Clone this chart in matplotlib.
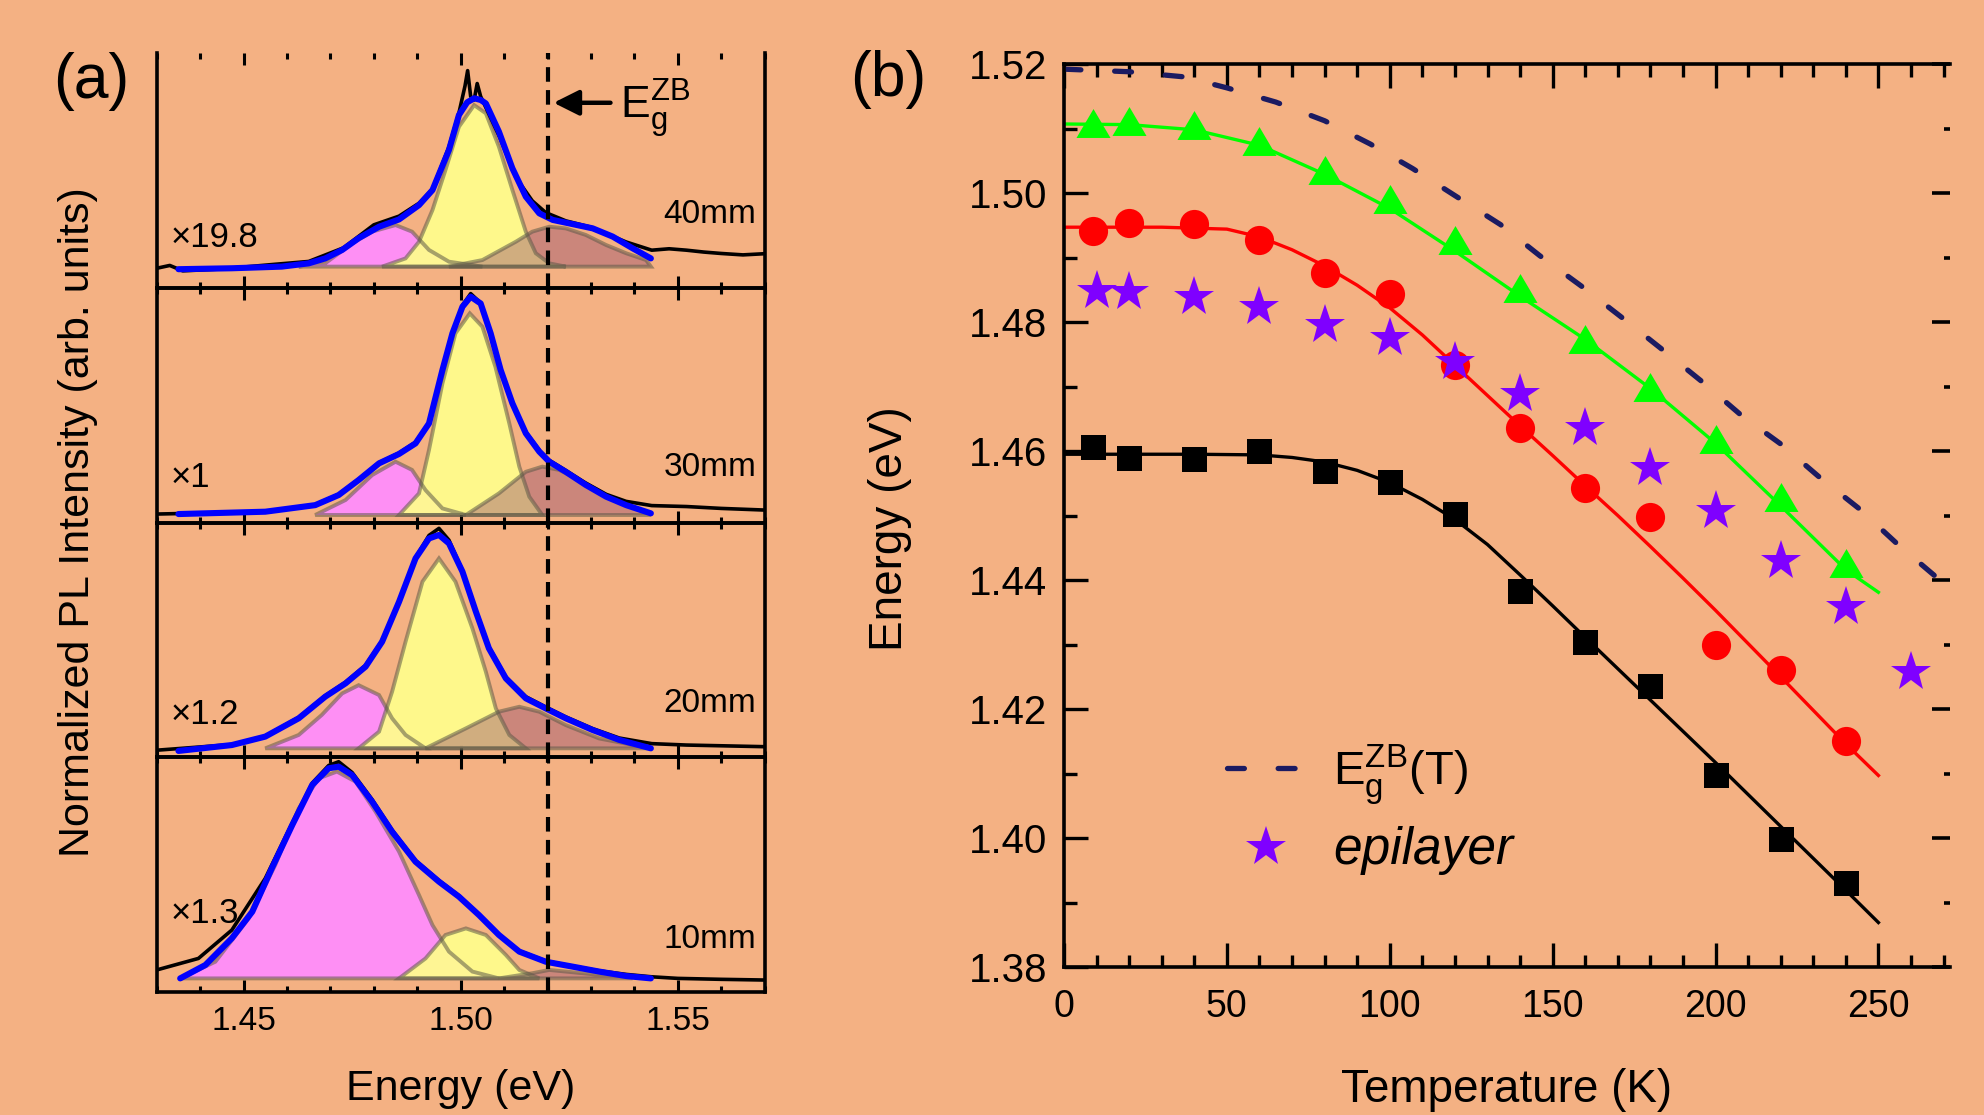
import matplotlib
matplotlib.use("Agg")
import matplotlib.pyplot as plt
from matplotlib.ticker import MultipleLocator, FormatStrFormatter
from matplotlib.lines import Line2D

plt.rcParams['font.family'] = ['Liberation Sans', 'DejaVu Sans']
plt.rcParams['mathtext.fontset'] = 'custom'
plt.rcParams['mathtext.rm'] = 'Liberation Sans'
plt.rcParams['mathtext.it'] = 'Liberation Sans:italic'

BG = '#F4B183'

# ---------------- panel (a): PL spectra, (energy eV, normalized intensity) ----------------
eg_zb = 1.52

# 40 mm
s40_raw = [(1.4300, 0.083), (1.4330, 0.095), (1.4360, 0.072), (1.4450, 0.080), (1.4573, 0.100),
           (1.4650, 0.112), (1.4730, 0.170), (1.4800, 0.268), (1.4858, 0.305), (1.4904, 0.360),
           (1.4935, 0.420), (1.4973, 0.600), (1.4996, 0.745), (1.5010, 0.860), (1.5016, 0.925),
           (1.5023, 0.815), (1.5031, 0.800), (1.5038, 0.870), (1.5046, 0.815), (1.5065, 0.740),
           (1.5090, 0.640), (1.5127, 0.470), (1.5165, 0.370), (1.5196, 0.320), (1.5242, 0.285),
           (1.5300, 0.258), (1.5381, 0.195), (1.5440, 0.160), (1.5480, 0.166), (1.5520, 0.160),
           (1.5560, 0.152), (1.5600, 0.146), (1.5650, 0.140), (1.5700, 0.145)]
s40_fit = [(1.4350, 0.079), (1.4473, 0.083), (1.4588, 0.090), (1.4650, 0.104), (1.4688, 0.125),
           (1.4727, 0.161), (1.4765, 0.211), (1.4812, 0.260), (1.4858, 0.291), (1.4904, 0.352),
           (1.4935, 0.416), (1.4973, 0.587), (1.4996, 0.736), (1.5015, 0.790), (1.5031, 0.807),
           (1.5046, 0.800), (1.5058, 0.785), (1.5088, 0.665), (1.5119, 0.509), (1.5150, 0.388),
           (1.5181, 0.317), (1.5212, 0.289), (1.5258, 0.271), (1.5304, 0.253), (1.5350, 0.218),
           (1.5396, 0.168), (1.5438, 0.125)]
s40_pink = [(1.4627, 0.090), (1.4688, 0.104), (1.4750, 0.189), (1.4796, 0.239), (1.4850, 0.267),
            (1.4888, 0.239), (1.4927, 0.161), (1.4973, 0.111), (1.5050, 0.090)]
s40_yellow = [(1.4819, 0.090), (1.4873, 0.125), (1.4904, 0.196), (1.4935, 0.331), (1.4965, 0.502),
              (1.4996, 0.686), (1.5031, 0.778), (1.5058, 0.743), (1.5088, 0.601), (1.5119, 0.417),
              (1.5150, 0.239), (1.5173, 0.147), (1.5204, 0.104), (1.5242, 0.090)]
s40_brown = [(1.4973, 0.090), (1.5050, 0.118), (1.5127, 0.196), (1.5165, 0.239), (1.5204, 0.260),
             (1.5242, 0.253), (1.5288, 0.225), (1.5335, 0.182), (1.5381, 0.147), (1.5427, 0.118),
             (1.5438, 0.090)]

# 30 mm
s30_raw = [(1.4300, 0.036), (1.4550, 0.046), (1.4665, 0.076), (1.4719, 0.120), (1.4765, 0.184),
           (1.4812, 0.255), (1.4858, 0.296), (1.4896, 0.342), (1.4927, 0.425), (1.4958, 0.650),
           (1.4981, 0.806), (1.5004, 0.925), (1.5023, 0.975), (1.5046, 0.935), (1.5069, 0.806),
           (1.5092, 0.650), (1.5119, 0.510), (1.5150, 0.385), (1.5181, 0.308), (1.5204, 0.265),
           (1.5242, 0.222), (1.5288, 0.168), (1.5335, 0.120), (1.5381, 0.090), (1.5440, 0.072),
           (1.5520, 0.068), (1.5600, 0.060), (1.5700, 0.053)]
s30_fit = [(1.4350, 0.036), (1.4550, 0.046), (1.4665, 0.074), (1.4719, 0.117), (1.4765, 0.181),
           (1.4812, 0.252), (1.4858, 0.292), (1.4896, 0.337), (1.4927, 0.422), (1.4958, 0.650),
           (1.4981, 0.806), (1.5004, 0.919), (1.5023, 0.962), (1.5046, 0.933), (1.5069, 0.806),
           (1.5092, 0.650), (1.5119, 0.508), (1.5150, 0.380), (1.5181, 0.302), (1.5204, 0.259),
           (1.5242, 0.216), (1.5288, 0.160), (1.5335, 0.110), (1.5381, 0.074), (1.5438, 0.039)]
s30_pink = [(1.4665, 0.032), (1.4735, 0.096), (1.4796, 0.202), (1.4850, 0.259), (1.4888, 0.224),
            (1.4919, 0.138), (1.4958, 0.060), (1.5012, 0.032)]
s30_yellow = [(1.4858, 0.032), (1.4904, 0.124), (1.4927, 0.309), (1.4958, 0.593), (1.4988, 0.806),
              (1.5021, 0.891), (1.5050, 0.834), (1.5080, 0.663), (1.5112, 0.422), (1.5135, 0.238),
              (1.5158, 0.110), (1.5188, 0.032)]
s30_brown = [(1.5012, 0.032), (1.5088, 0.124), (1.5150, 0.216), (1.5188, 0.238), (1.5227, 0.224),
             (1.5288, 0.167), (1.5350, 0.103), (1.5412, 0.053), (1.5438, 0.032)]

# 20 mm
s20_raw = [(1.4300, 0.030), (1.4473, 0.054), (1.4550, 0.090), (1.4627, 0.170), (1.4688, 0.262),
           (1.4735, 0.320), (1.4781, 0.392), (1.4819, 0.497), (1.4858, 0.665), (1.4896, 0.850),
           (1.4927, 0.945), (1.4950, 0.975), (1.4973, 0.925), (1.5004, 0.795), (1.5035, 0.625),
           (1.5065, 0.470), (1.5104, 0.342), (1.5150, 0.258), (1.5196, 0.214), (1.5242, 0.172),
           (1.5304, 0.122), (1.5365, 0.082), (1.5440, 0.058), (1.5520, 0.052), (1.5700, 0.045)]
s20_fit = [(1.4350, 0.027), (1.4473, 0.052), (1.4550, 0.088), (1.4627, 0.166), (1.4688, 0.258),
           (1.4735, 0.315), (1.4781, 0.386), (1.4819, 0.492), (1.4858, 0.662), (1.4896, 0.847),
           (1.4927, 0.932), (1.4950, 0.947), (1.4973, 0.911), (1.5004, 0.791), (1.5035, 0.620),
           (1.5065, 0.464), (1.5104, 0.336), (1.5150, 0.251), (1.5196, 0.208), (1.5242, 0.166),
           (1.5304, 0.116), (1.5365, 0.074), (1.5438, 0.038)]
s20_pink = [(1.4550, 0.038), (1.4627, 0.095), (1.4680, 0.180), (1.4727, 0.272), (1.4765, 0.307),
            (1.4812, 0.265), (1.4842, 0.166), (1.4873, 0.095), (1.4919, 0.038)]
s20_yellow = [(1.4765, 0.038), (1.4812, 0.109), (1.4842, 0.279), (1.4873, 0.492), (1.4912, 0.748),
              (1.4950, 0.847), (1.4988, 0.748), (1.5027, 0.549), (1.5058, 0.364), (1.5081, 0.208),
              (1.5112, 0.095), (1.5150, 0.038)]
s20_brown = [(1.4919, 0.038), (1.5012, 0.123), (1.5088, 0.194), (1.5135, 0.215), (1.5181, 0.194),
             (1.5242, 0.137), (1.5319, 0.080), (1.5438, 0.038)]

# 10 mm
s10_raw = [(1.4300, 0.094), (1.4396, 0.143), (1.4473, 0.264), (1.4550, 0.484), (1.4612, 0.720),
           (1.4658, 0.890), (1.4696, 0.965), (1.4719, 0.981), (1.4750, 0.935), (1.4796, 0.820),
           (1.4842, 0.690), (1.4896, 0.560), (1.4950, 0.475), (1.4996, 0.410), (1.5042, 0.330),
           (1.5088, 0.245), (1.5135, 0.175), (1.5196, 0.132), (1.5258, 0.110), (1.5319, 0.090),
           (1.5381, 0.075), (1.5438, 0.065), (1.5500, 0.058), (1.5600, 0.054), (1.5700, 0.051)]
s10_fit = [(1.4354, 0.058), (1.4412, 0.115), (1.4473, 0.229), (1.4520, 0.342), (1.4565, 0.527),
           (1.4612, 0.711), (1.4658, 0.882), (1.4696, 0.953), (1.4719, 0.960), (1.4750, 0.924),
           (1.4796, 0.811), (1.4842, 0.683), (1.4896, 0.555), (1.4950, 0.470), (1.4996, 0.406),
           (1.5042, 0.328), (1.5088, 0.243), (1.5135, 0.172), (1.5196, 0.129), (1.5258, 0.108),
           (1.5319, 0.087), (1.5381, 0.068), (1.5438, 0.058)]
s10_pink = [(1.4354, 0.058), (1.4435, 0.129), (1.4512, 0.314), (1.4573, 0.541), (1.4627, 0.782),
            (1.4673, 0.910), (1.4715, 0.939), (1.4758, 0.896), (1.4804, 0.768), (1.4858, 0.598),
            (1.4904, 0.413), (1.4935, 0.285), (1.4973, 0.172), (1.5027, 0.087), (1.5088, 0.058)]
s10_yellow = [(1.4858, 0.058), (1.4919, 0.143), (1.4965, 0.243), (1.5012, 0.271), (1.5058, 0.243),
              (1.5104, 0.158), (1.5135, 0.094), (1.5181, 0.058)]
s10_brown = [(1.5088, 0.058), (1.5165, 0.080), (1.5204, 0.094), (1.5281, 0.080), (1.5396, 0.058)]

# subpanels top to bottom
spectra = [
    (s40_raw, s40_fit, s40_pink, s40_yellow, s40_brown, '\u00d719.8', '40mm'),
    (s30_raw, s30_fit, s30_pink, s30_yellow, s30_brown, '\u00d71', '30mm'),
    (s20_raw, s20_fit, s20_pink, s20_yellow, s20_brown, '\u00d71.2', '20mm'),
    (s10_raw, s10_fit, s10_pink, s10_yellow, s10_brown, '\u00d71.3', '10mm'),
]
factor_y = [0.212, 0.191, 0.180, 0.335]
sample_y = [0.310, 0.235, 0.227, 0.222]

# ---------------- panel (b): peak energy vs temperature ----------------
temp = [9, 20, 40, 60, 80, 100, 120, 140, 160, 180, 200, 220, 240]
e_square = [1.4606, 1.4589, 1.4587, 1.4600, 1.4569, 1.4552, 1.4502, 1.4383, 1.4304, 1.4236,
            1.4097, 1.3999, 1.3930]
e_circle = [1.4941, 1.4954, 1.4952, 1.4927, 1.4876, 1.4843, 1.4734, 1.4636, 1.4542, 1.4497,
            1.4299, 1.4261, 1.4151]
e_triangle = [1.5109, 1.5111, 1.5106, 1.5081, 1.5036, 1.4991, 1.4927, 1.4853, 1.4774, 1.4699,
              1.4618, 1.4529, 1.4426]
temp_epi = [10, 20, 40, 60, 80, 100, 120, 140, 160, 180, 200, 220, 240, 260]
e_epi = [1.4848, 1.4847, 1.4839, 1.4824, 1.4796, 1.4775, 1.4738, 1.4689, 1.4636, 1.4574,
         1.4507, 1.4429, 1.4358, 1.4257]

# fitted curves
fit_t_black = [0, 20, 40, 60, 70, 80, 90, 100, 110, 120, 130, 140, 150, 160, 180, 200, 220,
               240, 250]
fit_e_black = [1.4595, 1.4595, 1.4595, 1.4594, 1.4590, 1.4583, 1.4570, 1.4551, 1.4525, 1.4494,
               1.4455, 1.4408, 1.4360, 1.4311, 1.4214, 1.4117, 1.4018, 1.3919, 1.3869]
fit_t_red = [0, 30, 50, 60, 70, 80, 90, 100, 110, 120, 130, 140, 150, 160, 170, 180, 190,
             200, 220, 240, 250]
fit_e_red = [1.4947, 1.4947, 1.4944, 1.4932, 1.4912, 1.4887, 1.4857, 1.4822, 1.4780, 1.4733,
             1.4686, 1.4639, 1.4593, 1.4546, 1.4500, 1.4452, 1.4403, 1.4353, 1.4250, 1.4146,
             1.4097]
fit_t_green = [0, 20, 40, 60, 80, 100, 120, 140, 160, 180, 200, 220, 240, 250]
fit_e_green = [1.5107, 1.5106, 1.5098, 1.5074, 1.5029, 1.4976, 1.4910, 1.4840, 1.4773, 1.4697,
               1.4612, 1.4515, 1.4416, 1.4381]
eg_t = [0, 20, 37, 50, 65, 80, 94, 107, 120, 134, 146, 159, 171, 184, 196, 208, 220, 232, 244,
        256, 270]
eg_e = [1.5192, 1.5188, 1.5180, 1.5163, 1.5141, 1.5112, 1.5076, 1.5038, 1.4996, 1.4951, 1.4903,
        1.4855, 1.4808, 1.4756, 1.4707, 1.4655, 1.4611, 1.4559, 1.4511, 1.4455, 1.4395]

fig = plt.figure(figsize=(19.84, 11.15), dpi=100, facecolor=BG)

# ---- panel (a) ----
a_left, a_width = 0.0790, 0.3064
a_bottom, a_h = 0.11031, 0.21054
axes_a = []
for k, (raw, fit, pink, yellow, brown, fac, name) in enumerate(spectra):
    ax = fig.add_axes([a_left, a_bottom + (3 - k) * a_h, a_width, a_h])
    ax.set_facecolor('none')
    for comp, fc, al in [(pink, '#FF8CFF', 0.92), (yellow, '#FFFF8C', 0.92), (brown, '#9A5272', 0.45)]:
        ex = [p[0] for p in comp]
        iy = [p[1] for p in comp]
        ax.fill(ex, iy, facecolor=fc, alpha=al, edgecolor='none', zorder=2)
        ax.fill(ex, iy, facecolor='none', edgecolor='#5E5A48', alpha=0.55, lw=2.8, zorder=3)
    ax.plot([p[0] for p in raw], [p[1] for p in raw], color='black', lw=2.6, zorder=4)
    ax.plot([p[0] for p in fit], [p[1] for p in fit], color='#0000FF', lw=4.4,
            solid_capstyle='round', solid_joinstyle='round', zorder=5)
    ax.axvline(eg_zb, color='black', lw=3.0, dashes=(3.5, 2.0), zorder=6)
    ax.set_xlim(1.43, 1.57)
    ax.set_ylim(0, 1)
    ax.set_yticks([])
    ax.xaxis.set_major_locator(MultipleLocator(0.05))
    ax.xaxis.set_minor_locator(MultipleLocator(0.01))
    ax.xaxis.set_major_formatter(FormatStrFormatter('%.2f'))
    ax.tick_params(axis='x', which='both', direction='in', top=True, bottom=True,
                   width=2.2, labelsize=24, pad=10, labelbottom=(k == 3))
    ax.tick_params(axis='x', which='major', length=8.5)
    ax.tick_params(axis='x', which='minor', length=4.5)
    for sp in ax.spines.values():
        sp.set_linewidth(2.6)
    if k == 0:
        ax.spines['top'].set_visible(False)
    ax.text(0.0235, factor_y[k], fac, transform=ax.transAxes, fontsize=25,
            ha='left', va='center')
    ax.text(0.986, sample_y[k], name, transform=ax.transAxes, fontsize=24,
            ha='right', va='center')
    axes_a.append(ax)

ax_top = axes_a[0]
ax_top.annotate('', xy=(1.5214, 0.788), xytext=(1.5345, 0.788),
                arrowprops=dict(arrowstyle='-|>,head_length=0.7,head_width=0.35',
                                color='black', lw=3.2, mutation_scale=22,
                                shrinkA=0, shrinkB=0), zorder=7)
ax_top.text(1.5368, 0.722, r'$\mathregular{E_g^{ZB}}$', fontsize=32, ha='left', va='baseline')

axes_a[3].set_xlabel('Energy (eV)', fontsize=31)
axes_a[3].xaxis.set_label_coords(0.5, -0.326)
axes_a[3].xaxis.label.set_va('top')
fig.text(0.0393, 0.5314, 'Normalized PL Intensity (arb. units)', rotation=90,
         fontsize=31, ha='center', va='center')
fig.text(0.0267, 0.9265, '(a)', fontsize=45, ha='left', va='center')

# ---- panel (b) ----
axb = fig.add_axes([0.5363, 0.1327, 0.4466, 0.8099])
axb.set_facecolor('none')
axb.plot(eg_t, eg_e, color='#1B1B62', lw=3.8, dashes=(3.2, 6.4), dash_capstyle='round',
         zorder=2)
axb.plot(fit_t_black, fit_e_black, color='black', lw=2.4, zorder=2)
axb.plot(fit_t_red, fit_e_red, color='#FF0000', lw=2.4, zorder=2)
axb.plot(fit_t_green, fit_e_green, color='#00FF00', lw=2.4, zorder=2)
tri = [(0, 0.85), (-1, -0.85), (1, -0.85)]
axb.plot(temp, e_square, 's', color='black', ms=18, mew=0, zorder=3)
axb.plot(temp, e_circle, 'o', color='#FF0000', ms=21, mew=0, zorder=3)
axb.plot(temp, e_triangle, marker=tri, ls='none', color='#00FF00', ms=24.5, mew=0, zorder=3)
axb.plot(temp_epi, e_epi, '*', color='#7F00FF', ms=30, mew=0, zorder=4)

axb.set_xlim(0, 272)
axb.set_ylim(1.38, 1.52)
axb.xaxis.set_major_locator(MultipleLocator(50))
axb.xaxis.set_minor_locator(MultipleLocator(10))
axb.yaxis.set_major_locator(MultipleLocator(0.02))
axb.yaxis.set_minor_locator(MultipleLocator(0.01))
axb.yaxis.set_major_formatter(FormatStrFormatter('%.2f'))
axb.tick_params(which='both', direction='in', top=True, bottom=True, left=True, right=False,
                width=2.4)
axb.tick_params(axis='x', labelsize=27)
axb.tick_params(axis='y', labelsize=29)
axb.tick_params(which='major', length=17)
axb.tick_params(which='minor', length=9)
axb.tick_params(axis='x', which='major', pad=16)
axb.tick_params(axis='y', which='major', pad=12)
axb.spines['right'].set_visible(False)
for sp in ['left', 'top', 'bottom']:
    axb.spines[sp].set_linewidth(2.6)

sec = axb.secondary_yaxis('right')
sec.yaxis.set_major_locator(MultipleLocator(0.02))
sec.yaxis.set_minor_locator(MultipleLocator(0.01))
sec.tick_params(which='both', direction='in', width=2.6, labelright=False)
sec.tick_params(which='major', length=13)
sec.tick_params(which='minor', length=4)
sec.spines['right'].set_visible(False)

axb.set_xlabel('Temperature (K)', fontsize=33)
axb.xaxis.set_label_coords(0.5, -0.112)
axb.xaxis.label.set_va('top')
axb.set_ylabel('Energy (eV)', fontsize=33)
axb.yaxis.set_label_coords(-0.172, 0.485)

h_eg = Line2D([], [], color='#1B1B62', lw=3.8, dashes=(3.2, 6.4), dash_capstyle='round')
h_epi = Line2D([], [], marker='*', ls='none', color='#7F00FF', ms=30, mew=0)
leg = axb.legend([h_eg, h_epi], [r'$\mathregular{E_g^{ZB}}$(T)', 'epilayer'],
                 loc='upper left', bbox_to_anchor=(0.1836, 0.249), frameon=False,
                 fontsize=34, handlelength=1.66, handletextpad=0.6, labelspacing=0.4,
                 borderpad=0, borderaxespad=0)
leg.get_texts()[1].set_style('italic')
leg.get_texts()[1].set_fontsize(37)
fig.text(0.4284, 0.9283, '(b)', fontsize=45, ha='left', va='center')

fig.savefig('out.png', dpi=100, facecolor=BG)
